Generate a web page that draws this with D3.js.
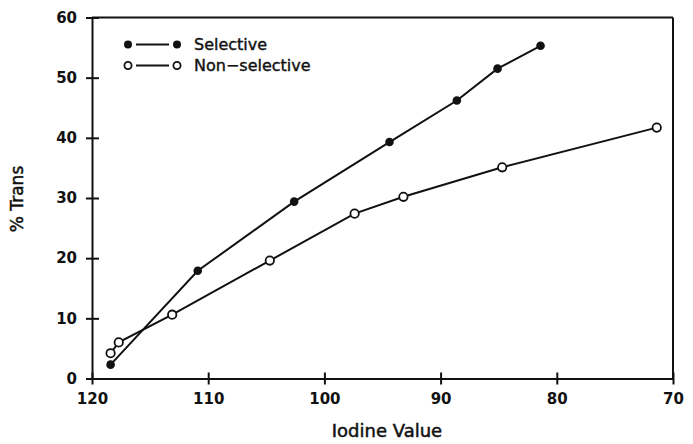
<!DOCTYPE html>
<html>
<head>
<meta charset="utf-8">
<script src="https://cdn.jsdelivr.net/npm/d3@7"></script>
<style>
  html, body { margin: 0; padding: 0; background: #fff; }
  svg { display: block; }
  text { font-family: "DejaVu Sans", "Noto Sans", sans-serif; fill: #111; }
</style>
</head>
<body>
<svg id="chart" width="693" height="444"></svg>
<script>
// ---- data ----
const selectiveIV    = [118.4, 110.9, 102.6, 94.4, 88.6, 85.1, 81.4];
const selectiveTrans = [2.3, 17.9, 29.4, 39.3, 46.2, 51.5, 55.3];
const nonselIV       = [118.4, 117.7, 113.1, 104.7, 97.4, 93.2, 84.7, 71.4];
const nonselTrans    = [4.2, 6.0, 10.6, 19.6, 27.4, 30.2, 35.1, 41.7];
const xTicks = [120, 110, 100, 90, 80, 70];
const yTicks = [0, 10, 20, 30, 40, 50, 60];
const seriesNames = ["Selective", "Non\u2212selective"];
const xTitle = "Iodine Value";
const yTitle = "% Trans";

const svg = d3.select("#chart");
const L = 92, R = 673, T = 17.5, B = 378.5;
const x = d3.scaleLinear().domain([120, 70]).range([L, R]);
const y = d3.scaleLinear().domain([0, 60]).range([B, T]);

const ink = "#111";

// frame (top and right)
svg.append("line").attr("x1", L).attr("x2", R).attr("y1", T).attr("y2", T)
  .attr("stroke", ink).attr("stroke-width", 2);
svg.append("line").attr("x1", R).attr("x2", R).attr("y1", T).attr("y2", B)
  .attr("stroke", ink).attr("stroke-width", 2);

// x axis
const gx = svg.append("g").attr("transform", `translate(0,${B})`)
  .call(d3.axisBottom(x).tickValues(xTicks).tickFormat(d3.format("d")).tickSizeOuter(0).tickPadding(9));
gx.select(".domain").attr("stroke", ink).attr("stroke-width", 2);
gx.selectAll(".tick line").attr("y1", -6).attr("y2", 6).attr("stroke", ink).attr("stroke-width", 2);
gx.selectAll(".tick text").style("font-size", "15px").style("font-weight", "bold").attr("fill", ink);

// y axis
const gy = svg.append("g").attr("transform", `translate(${L},0)`)
  .call(d3.axisLeft(y).tickValues(yTicks).tickFormat(d3.format("d")).tickSizeOuter(0).tickPadding(9));
gy.select(".domain").attr("stroke", ink).attr("stroke-width", 2);
gy.selectAll(".tick line").attr("x1", -6).attr("x2", 7).attr("stroke", ink).attr("stroke-width", 2);
gy.selectAll(".tick text").style("font-size", "15px").style("font-weight", "bold").attr("fill", ink);

// titles
svg.append("text").attr("x", 387).attr("y", 437).attr("text-anchor", "middle")
  .style("font-size", "18px").attr("stroke", ink).attr("stroke-width", 0.5).text(xTitle);
svg.append("text").attr("transform", "translate(23,199) rotate(-90)").attr("text-anchor", "middle")
  .style("font-size", "17px").attr("stroke", ink).attr("stroke-width", 0.5).text(yTitle);

// lines
const line = d3.line().x(d => x(d[0])).y(d => y(d[1]));
const selData = selectiveIV.map((v, i) => [v, selectiveTrans[i]]);
const nonData = nonselIV.map((v, i) => [v, nonselTrans[i]]);

svg.append("path").datum(nonData).attr("d", line)
  .attr("fill", "none").attr("stroke", ink).attr("stroke-width", 2);
svg.append("path").datum(selData).attr("d", line)
  .attr("fill", "none").attr("stroke", ink).attr("stroke-width", 2);

svg.append("g").selectAll("circle").data(nonData).join("circle")
  .attr("cx", d => x(d[0])).attr("cy", d => y(d[1])).attr("r", 4.2)
  .attr("fill", "#fff").attr("stroke", ink).attr("stroke-width", 1.8);
svg.append("g").selectAll("circle").data(selData).join("circle")
  .attr("cx", d => x(d[0])).attr("cy", d => y(d[1])).attr("r", 4.3)
  .attr("fill", ink);

// legend
const leg = svg.append("g");
const rows = [{name: seriesNames[0], filled: true, cy: 44.5}, {name: seriesNames[1], filled: false, cy: 65.5}];
rows.forEach(r => {
  leg.append("line").attr("x1", 136).attr("x2", 169).attr("y1", r.cy).attr("y2", r.cy)
    .attr("stroke", ink).attr("stroke-width", 2);
  [128, 177].forEach(cx => {
    leg.append("circle").attr("cx", cx).attr("cy", r.cy).attr("r", r.filled ? 4 : 3.6)
      .attr("fill", r.filled ? ink : "#fff").attr("stroke", ink).attr("stroke-width", r.filled ? 0 : 1.8);
  });
  leg.append("text").attr("x", 194).attr("y", r.cy).attr("dy", "0.35em")
    .style("font-size", "16px").attr("stroke", ink).attr("stroke-width", 0.4).text(r.name);
});
</script>
</body>
</html>
